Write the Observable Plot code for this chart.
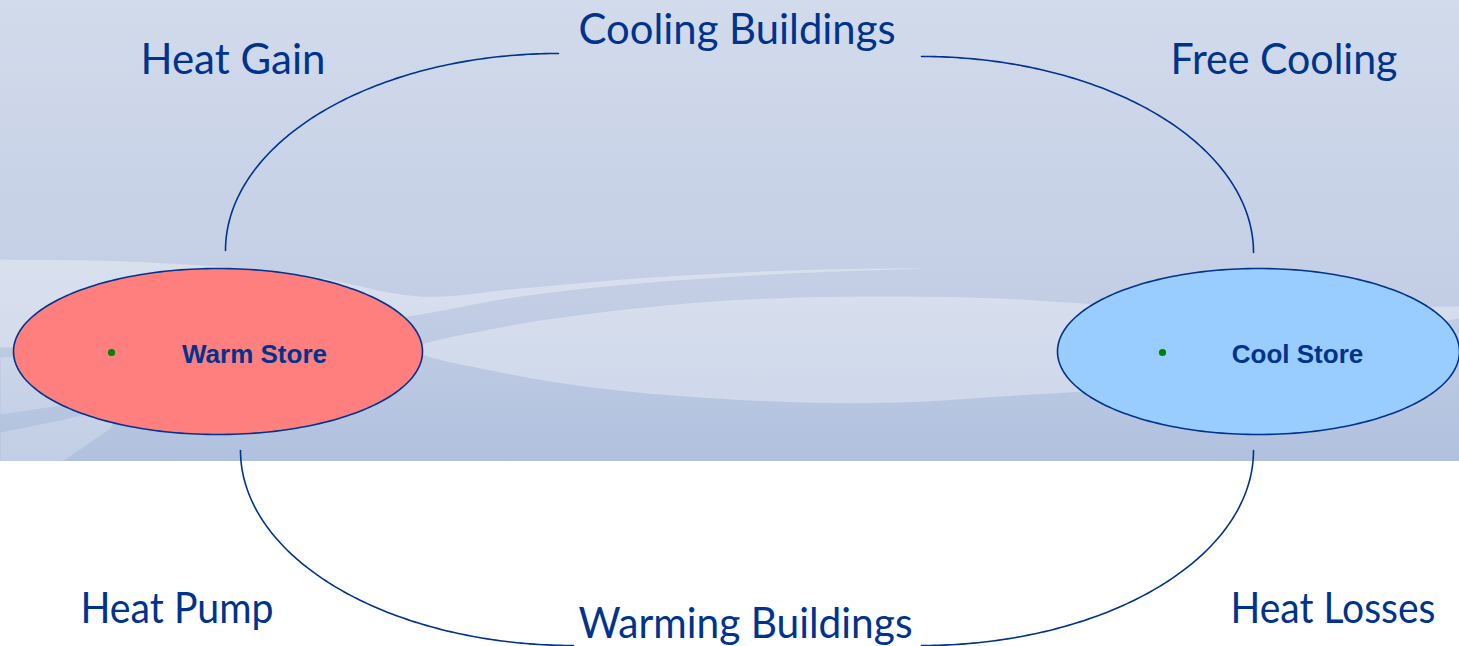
<!DOCTYPE html>
<html>
<head>
<meta charset="utf-8">
<script src="https://cdn.jsdelivr.net/npm/d3@7"></script>
<script src="https://cdn.jsdelivr.net/npm/@observablehq/plot@0.6"></script>
<style>
  html, body { margin: 0; padding: 0; background: #ffffff; }
  #chart { width: 1459px; height: 646px; }
</style>
</head>
<body>
<div id="chart"></div>
<script>
// ---- data ----
const stores = ["Warm Store", "Cool Store"];
const flows = ["Cooling Buildings", "Warming Buildings"];
const processes = ["Heat Gain", "Free Cooling", "Heat Pump", "Heat Losses"];
const connectors = ["Cooling Buildings (warm side)", "Cooling Buildings (cool side)", "Warming Buildings (warm side)", "Warming Buildings (cool side)"];

// ---- layout (diagram coordinates) ----
const W = 1459, H = 646;
const ink = "#00338D";
const storeLayout = [
  {cx: 217.5, cy: 351, rx: 204.5, ry: 83, fill: "#FF7F7F", dotX: 111, labelX: 254},
  {cx: 1258, cy: 351, rx: 201, ry: 83, fill: "#99CCFF", dotX: 1162, labelX: 1297}
];
const flowLayout = [{x: 736.5, y: 43, w: 317}, {x: 745, y: 637, w: 334}];
const processLayout = [{x: 232.5, y: 73, w: 185}, {x: 1283.5, y: 73, w: 227}, {x: 176.5, y: 622, w: 193}, {x: 1332.5, y: 622, w: 205}];
// quarter-ellipse connectors: centre, radii, start/end angle (deg)
const connectorLayout = [
  {cx: 558, cy: 250, rx: 333, ry: 197, a0: 180, a1: 270},
  {cx: 921, cy: 252, rx: 332, ry: 196, a0: 270, a1: 360},
  {cx: 573, cy: 450, rx: 333, ry: 195, a0: 180, a1: 90},
  {cx: 921, cy: 450, rx: 332, ry: 195, a0: 0, a1: 90}
];
// decorative light swooshes in the background band
const swooshes = [
  [[-60,347],[-60,259],[0,259],[150,262],[300,274],[420,296],[520,288],[650,277],[790,270],[920,268],[790,273],[650,282],[520,296],[420,314],[300,330],[150,341],[0,347]],
  [[415,349],[500,327],[600,312],[700,302],[800,297],[900,296],[1000,298],[1100,304],[1250,309],[1459,306],[1520,306],[1520,318],[1459,318],[1250,380],[1100,390],[1000,396],[900,402],[800,402],[700,397],[600,388],[500,372]],
  [[0,357],[60,353],[60,405],[0,414]],
  [[0,432],[60,420],[120,405],[110,428],[62,461],[0,461]]
];

function arc(c, n = 120) {
  const pts = [];
  for (let i = 0; i <= n; i++) {
    const a = (c.a0 + (c.a1 - c.a0) * i / n) * Math.PI / 180;
    pts.push({x: c.cx + c.rx * Math.cos(a), y: c.cy + c.ry * Math.sin(a)});
  }
  return pts;
}
const storeShapes = stores.map((name, i) => {
  const s = storeLayout[i];
  return arc({cx: s.cx, cy: s.cy, rx: s.rx, ry: s.ry, a0: 0, a1: 360}, 240).map(p => ({...p, name}));
});

const marks = [];
swooshes.forEach((poly, i) => {
  marks.push(Plot.line(poly, {x: d => d[0], y: d => d[1], curve: i >= 2 ? "linear-closed" : "catmull-rom-closed", fill: "white", fillOpacity: i >= 2 ? 0.22 : 0.33, stroke: "none", clip: true}));
});
connectors.forEach((name, i) => {
  marks.push(Plot.line(arc(connectorLayout[i]), {x: "x", y: "y", stroke: ink, strokeWidth: 1.6}));
});
stores.forEach((name, i) => {
  marks.push(Plot.line(storeShapes[i], {x: "x", y: "y", curve: "linear-closed", fill: storeLayout[i].fill, stroke: ink, strokeWidth: 1.6}));
});
marks.push(Plot.dot(stores.map((name, i) => ({name, x: storeLayout[i].dotX, y: storeLayout[i].cy + 1})), {x: "x", y: "y", r: 3.6, fill: "#008000", stroke: "none"}));
marks.push(Plot.text(stores.map((name, i) => ({name, x: storeLayout[i].labelX, y: 362})), {
  x: "x", y: "y", text: "name", fill: ink, fontSize: 26, fontWeight: "bold",
  fontFamily: "'Liberation Sans', Arial, sans-serif", textAnchor: "middle", lineAnchor: "bottom"
}));
const bigLabels = [
  ...flows.map((name, i) => ({name, ...flowLayout[i]})),
  ...processes.map((name, i) => ({name, ...processLayout[i]}))
];
marks.push(Plot.text(bigLabels, {
  x: "x", y: "y", text: "name", fill: ink, fontSize: 43, fontFamily: "Lato, sans-serif",
  textAnchor: "middle", lineAnchor: "bottom", className: "biglabel"
}));

const chart = Plot.plot({
  width: W, height: H,
  margin: 0,
  x: {domain: [0, W], range: [0, W], axis: null},
  y: {domain: [0, H], range: [0, H], axis: null},
  style: {
    background: "linear-gradient(to bottom, #D2DBEB 0px, #C3CEE5 300px, #B0C1DE 461px, #ffffff 461px, #ffffff 646px)",
    overflow: "hidden"
  },
  marks
});
// fit each big label to the width it has in the reference
d3.select(chart).selectAll("g.biglabel text").each(function(_, i) {
  d3.select(this).attr("textLength", bigLabels[i].w).attr("lengthAdjust", "spacingAndGlyphs");
});
document.getElementById("chart").appendChild(chart);
</script>
</body>
</html>
